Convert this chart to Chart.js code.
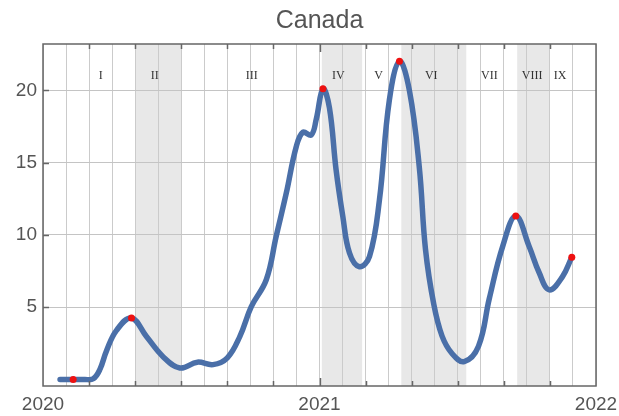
<!DOCTYPE html>
<html>
<head>
<meta charset="utf-8">
<script src="https://cdn.jsdelivr.net/npm/chart.js"></script>
<style>
  body { margin: 0; background: #fff; }
  canvas { display: block; }
</style>
</head>
<body>
<canvas id="chart" width="619" height="416"></canvas>
<script>
// x values are months since Jan 2020
const months = [0.74, 1.31, 1.8, 2.18, 2.47, 2.76, 3.19, 3.84, 4.49, 5.21, 5.94, 6.7, 7.38, 8.0, 8.54, 9.04, 9.69, 10.12, 10.56, 10.99, 11.28, 11.64, 11.86, 12.15, 12.43, 12.72, 13.01, 13.3, 13.73, 14.17, 14.6, 15.03, 15.47, 15.9, 16.33, 16.6, 16.96, 17.32, 17.75, 18.28, 18.9, 19.37, 19.95, 20.52, 21.1, 21.53, 21.97, 22.54, 22.95];
const values = [0, 0, 0, 0.05, 0.7, 2.0, 3.4, 4.25, 2.97, 1.58, 0.8, 1.2, 1.03, 1.5, 2.97, 5.04, 6.9, 9.9, 12.9, 16.1, 17.1, 16.9, 18.0, 20.1, 18.8, 14.5, 11.3, 8.75, 7.8, 8.5, 12.4, 19.3, 22.0, 20.0, 14.7, 9.0, 5.2, 3.0, 1.8, 1.24, 2.3, 5.6, 9.2, 11.3, 9.2, 7.4, 6.2, 7.1, 8.46];

const peakMonths = [1.31, 3.84, 12.15, 15.47, 20.52, 22.95];
const peakValues = [0, 4.25, 20.1, 22.0, 11.3, 8.46];

// shaded waves (start month, end month)
const bandStarts = [4.0, 12.1, 15.55, 20.58];
const bandEnds = [6.0, 13.85, 18.37, 21.97];

const waveNames = ["I", "II", "III", "IV", "V", "VI", "VII", "VIII", "IX"];
const waveMonths = [2.51, 4.85, 9.06, 12.82, 14.56, 16.85, 19.37, 21.23, 22.44];
const waveLabelValue = 21.0;

const yTicks = [5, 10, 15, 20];
const yearLabels = ["2020", "2021", "2022"];

const GREY = "#555";

const decor = {
    id: "decor",
    beforeDraw(chart) {
        const { ctx, chartArea: a, scales } = chart;
        ctx.save();
        ctx.fillStyle = "#e8e8e8";
        bandStarts.forEach((s, i) => {
            const x1 = scales.x.getPixelForValue(s);
            const x2 = scales.x.getPixelForValue(bandEnds[i]);
            ctx.fillRect(x1, a.top, x2 - x1, a.bottom - a.top);
        });
        ctx.restore();
    },
    beforeDatasetsDraw(chart) {
        const { ctx, scales } = chart;
        ctx.save();
        ctx.font = "12px 'Liberation Serif', serif";
        ctx.fillStyle = "#333";
        ctx.textAlign = "center";
        ctx.textBaseline = "middle";
        const y = scales.y.getPixelForValue(waveLabelValue);
        waveNames.forEach((n, i) => {
            ctx.fillText(n, scales.x.getPixelForValue(waveMonths[i]), y);
        });
        ctx.restore();
    },
    afterDraw(chart) {
        const { ctx, chartArea: a, scales } = chart;
        ctx.save();
        // frame
        ctx.strokeStyle = "#666";
        ctx.lineWidth = 1.5;
        ctx.strokeRect(a.left, a.top, a.right - a.left, a.bottom - a.top);
        // inner ticks, every 2 months
        for (let m = 2; m < 24; m += 2) {
            const x = Math.round(scales.x.getPixelForValue(m)) + 0.5;
            const len = m % 12 === 0 ? 8 : 5;
            ctx.beginPath();
            ctx.moveTo(x, a.bottom);
            ctx.lineTo(x, a.bottom - len);
            ctx.moveTo(x, a.top);
            ctx.lineTo(x, a.top + len);
            ctx.stroke();
        }
        yTicks.forEach((v) => {
            const y = Math.round(scales.y.getPixelForValue(v)) + 0.5;
            ctx.beginPath();
            ctx.moveTo(a.left, y);
            ctx.lineTo(a.left + 6, y);
            ctx.stroke();
        });
        // title
        ctx.font = "25px 'Liberation Sans', Arial, sans-serif";
        ctx.fillStyle = GREY;
        ctx.textAlign = "center";
        ctx.textBaseline = "alphabetic";
        ctx.fillText("Canada", (a.left + a.right) / 2, 28);
        ctx.restore();
    },
};

const lineData = months.map((m, i) => ({ x: m, y: values[i] }));
const peakData = peakMonths.map((m, i) => ({ x: m, y: peakValues[i] }));

new Chart(document.getElementById("chart"), {
    type: "line",
    data: {
        datasets: [
            {
                data: peakData,
                showLine: false,
                pointRadius: 3.5,
                pointBackgroundColor: "#ee1111",
                pointBorderWidth: 0,
            },
            {
                data: lineData,
                borderColor: "#4a6fa8",
                borderWidth: 5.5,
                pointRadius: 0,
                tension: 0.4,
                borderCapStyle: "round",
                borderJoinStyle: "round",
            },
        ],
    },
    options: {
        responsive: false,
        devicePixelRatio: 1,
        animation: false,
        layout: { padding: { top: 44, right: 23, left: 0, bottom: 0 } },
        plugins: {
            legend: { display: false },
            tooltip: { enabled: false },
            title: { display: false },
        },
        scales: {
            x: {
                type: "linear",
                min: 0,
                max: 24,
                afterFit: (s) => {
                    s.height = 30;
                    s.paddingLeft = 0;
                    s.paddingRight = 0;
                },
                afterBuildTicks: (s) => {
                    const t = [];
                    for (let m = 0; m <= 24; m++) t.push({ value: m });
                    s.ticks = t;
                },
                grid: { color: "#cbcbcb", lineWidth: 1, drawTicks: false },
                border: { display: false },
                ticks: {
                    autoSkip: false,
                    maxRotation: 0,
                    padding: 7,
                    color: GREY,
                    font: { size: 19, family: "'Liberation Sans', Arial, sans-serif" },
                    callback: (v) => (v % 12 === 0 ? yearLabels[v / 12] : ""),
                },
            },
            y: {
                min: -0.45,
                max: 23.2,
                afterFit: (s) => { s.width = 43; },
                afterBuildTicks: (s) => { s.ticks = yTicks.map((v) => ({ value: v })); },
                grid: { color: "#c4c4c4", lineWidth: 1, drawTicks: false },
                border: { display: false },
                ticks: {
                    padding: 6,
                    color: GREY,
                    font: { size: 19, family: "'Liberation Sans', Arial, sans-serif" },
                },
            },
        },
    },
    plugins: [decor],
});
</script>
</body>
</html>
